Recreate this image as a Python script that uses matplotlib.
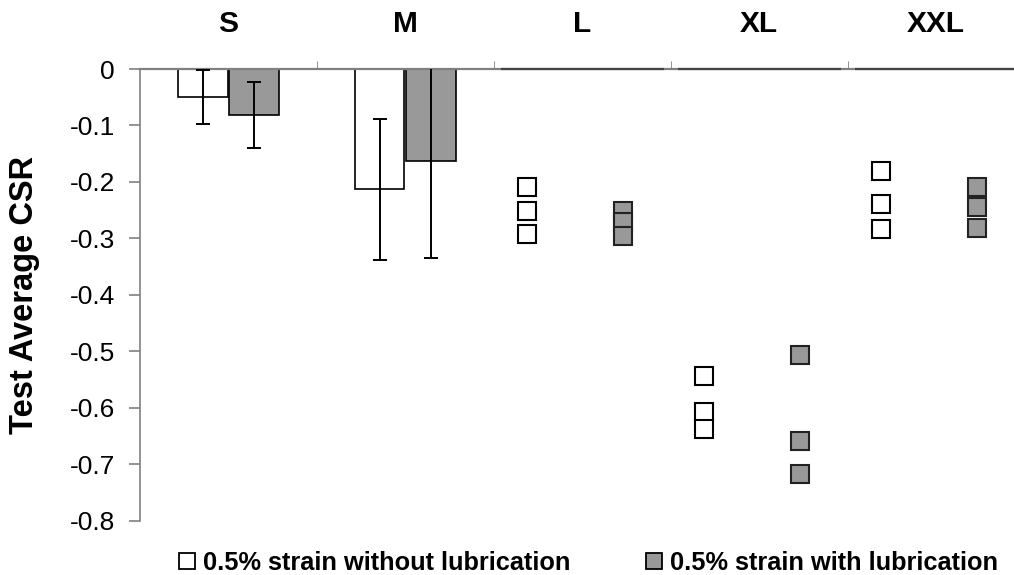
import numpy as np
import matplotlib
matplotlib.use('Agg')
import matplotlib.pyplot as plt
from matplotlib.lines import Line2D

plt.rcParams['font.family'] = ['Liberation Sans', 'DejaVu Sans']

# Категорії розмірів
cats = ['S', 'M', 'L', 'XL', 'XXL']

# Стовпчики (S, M): середнє та похибка
bar_dry = [-0.050, -0.213]
err_dry = [0.048, 0.125]
bar_lub = [-0.081, -0.162]
err_lub = [0.058, 0.173]

# Окремі точки для L, XL, XXL
pts_dry = {
    'L': [-0.208, -0.251, -0.292],
    'XL': [-0.543, -0.608, -0.637],
    'XXL': [-0.180, -0.239, -0.283],
}
pts_lub = {
    'L': [-0.252, -0.270, -0.296],
    'XL': [-0.506, -0.658, -0.717],
    'XXL': [-0.208, -0.244, -0.281],
}

labels = ['0.5% strain without lubrication', '0.5% strain with lubrication']

grey = '#999999'
axis_col = '#808080'

fig = plt.figure(figsize=(10.14, 5.75), dpi=100)
ax = fig.add_axes([0.138, 0.094, 0.862, 0.786])

# стовпчики
xb = np.arange(len(bar_dry)) + 0.5
w = 0.28
ax.bar(xb - 0.145, bar_dry, w, color='white', edgecolor='black', linewidth=1.2, zorder=2)
ax.bar(xb + 0.145, bar_lub, w, color=grey, edgecolor='black', linewidth=1.2, zorder=2)
ax.errorbar(xb - 0.145, bar_dry, yerr=err_dry, fmt='none', ecolor='black',
            elinewidth=1.4, capsize=5, capthick=1.4, zorder=3)
ax.errorbar(xb + 0.145, bar_lub, yerr=err_lub, fmt='none', ecolor='black',
            elinewidth=1.4, capsize=5, capthick=1.4, zorder=3)

# точки
for c in ['L', 'XL', 'XXL']:
    i = cats.index(c) + 0.5
    ax.plot([i - 0.31] * 3, pts_dry[c], 's', ms=12.5, mfc='white', mec='black',
            mew=1.5, ls='none', zorder=3, clip_on=False)
    ax.plot([i + 0.23] * 3, pts_lub[c], 's', ms=12.5, mfc=grey, mec='#222222',
            mew=1.5, ls='none', zorder=3, clip_on=False)
    ax.hlines(0, i - 0.46, i + 0.46, color='#444444', lw=1.6, zorder=4, clip_on=False)

ax.set_xlim(0, 4.94)
ax.set_ylim(-0.8, 0)
ax.set_yticks(np.arange(-0.8, 0.01, 0.1))
ax.set_yticklabels(['-0.8', '-0.7', '-0.6', '-0.5', '-0.4', '-0.3', '-0.2', '-0.1', '0'])

ax.xaxis.tick_top()
ax.set_xticks(np.arange(len(cats)) + 0.5)
ax.set_xticklabels(cats, fontsize=21.5, fontweight='bold')
ax.set_xticks(np.arange(1, len(cats)), minor=True)
ax.tick_params(axis='x', which='major', length=0, pad=22)
ax.tick_params(axis='x', which='minor', length=6, color=axis_col, direction='out')

ax.tick_params(axis='y', labelsize=19, length=8, color=axis_col, width=1.2, pad=10)

for s in ['bottom', 'right']:
    ax.spines[s].set_visible(False)
ax.spines['left'].set_color(axis_col)
ax.spines['top'].set_color(axis_col)
ax.spines['left'].set_linewidth(1.2)
ax.spines['top'].set_linewidth(1.6)

ax.set_ylabel('Test Average CSR', fontsize=23.5, fontweight='bold', labelpad=21)

handles = [
    Line2D([], [], marker='s', ls='none', ms=11, mfc='white', mec='black', mew=1.3),
    Line2D([], [], marker='s', ls='none', ms=11, mfc=grey, mec='black', mew=1.3),
]
fig.legend(handles, labels,
           loc='center', bbox_to_anchor=(0.580, 0.021), ncol=2, frameon=False,
           prop={'size': 18.3, 'weight': 'bold'}, handletextpad=0.3,
           columnspacing=2.9, handlelength=0.7)

fig.savefig('out.png', dpi=100)
